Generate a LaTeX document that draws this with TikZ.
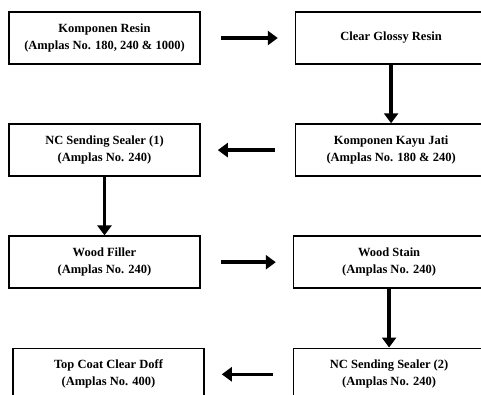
\documentclass[tikz,border=0pt]{standalone}
\usepackage{fontspec}
\setmainfont{Liberation Serif}
\usetikzlibrary{arrows.meta, positioning}
\tikzset{>={Triangle[width=14pt,length=10pt]},
    node distance=58.5pt and 94pt,
    stepbox/.style={rectangle,draw,line width=1.6pt,minimum width=191pt,minimum height=52pt,
        inner sep=0pt,align=center,font=\bfseries\fontsize{12.5}{17}\selectfont},
    flow/.style={->,line width=3.5pt},
    side/.style={flow,shorten <=20pt,shorten >=17pt}}

\begin{document}
\begin{tikzpicture}
\path[use as bounding box,clip] (0,0) rectangle (481pt,-394pt);
\node[stepbox] (resin)   at (104.5pt,-38pt) {Komponen Resin\\(Amplas No. 180, 240 \& 1000)};
\node[stepbox] (glossy)  [right=of resin]   {Clear Glossy Resin};
\node[stepbox] (kayu)    [below=of glossy]  {Komponen Kayu Jati\\(Amplas No. 180 \& 240)};
\node[stepbox] (sealerA) [below=of resin]   {NC Sending Sealer (1)\\(Amplas No. 240)};
\node[stepbox] (filler)  [below=of sealerA] {Wood Filler\\(Amplas No. 240)};
\node[stepbox,xshift=-2pt] (stain)   [below=of kayu]    {Wood Stain\\(Amplas No. 240)};
\node[stepbox] (sealerB) [below=of stain]   {NC Sending Sealer (2)\\(Amplas No. 240)};
\node[stepbox,xshift=4pt] (topcoat) [below=of filler]  {Top Coat Clear Doff\\(Amplas No. 400)};
\path[flow]
	(glossy)  edge (kayu)
	(sealerA) edge (filler)
	(stain)   edge (sealerB);
\path[side]
	(resin)   edge (glossy)
	(kayu)    edge (sealerA)
	(filler)  edge (stain)
	(sealerB) edge (topcoat);
\end{tikzpicture}
\end{document}
